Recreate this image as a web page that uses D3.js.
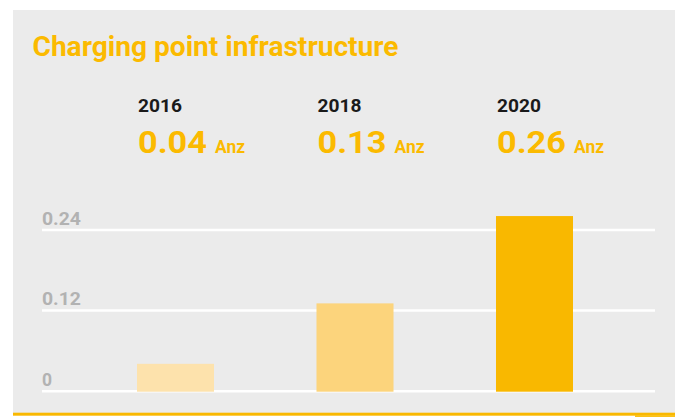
<!DOCTYPE html>
<html>
<head>
<meta charset="utf-8">
<script src="https://cdn.jsdelivr.net/npm/d3@7"></script>
<style>
  html, body { margin: 0; padding: 0; background: #ffffff; }
  svg { display: block; font-family: Roboto, "DejaVu Sans", sans-serif; }
</style>
</head>
<body>
<svg class="chart" width="685" height="417"></svg>
<script>
var title = "Charging point infrastructure";
var years = ["2016", "2018", "2020"];
var values = [0.04, 0.13, 0.26];
var valueLabels = ["0.04", "0.13", "0.26"];
var unit = "Anz";
var tickValues = [0, 0.12, 0.24];
var tickLabels = ["0", "0.12", "0.24"];
var barColors = ["#fde2ac", "#fcd47c", "#f9b800"];

window.onload = function(){

    var svg = d3.select(".chart");

    // panel
    svg.append('rect')
        .attr('x', 13).attr('y', 10)
        .attr('width', 662).attr('height', 403)
        .attr('fill', '#ebebeb');

    svg.append('rect')
        .attr('x', 13).attr('y', 412.7)
        .attr('width', 662).attr('height', 3)
        .attr('fill', '#f9b800');
    svg.append('rect')
        .attr('x', 635).attr('y', 415)
        .attr('width', 40).attr('height', 2)
        .attr('fill', '#fbc21a');

    svg.append('text')
        .attr('x', 32.5)
        .attr('y', 55.7)
        .text(title)
        .attr('font-size', '27px')
        .attr('font-weight', 'bold')
        .attr('textLength', 366)
        .attr('lengthAdjust', 'spacingAndGlyphs')
        .attr('fill', '#fbba00');

    var x = d3.scaleBand()
        .domain(years)
        .range([85.75, 624.25])
        .paddingInner(0.571)
        .paddingOuter(0.2855);

    var y = d3.scaleLinear()
        .domain([0, 0.24])
        .range([390.7, 229.5]);

    // gridlines + tick labels
    var axis = svg.append('g')
        .attr('transform', 'translate(42,0)')
        .call(d3.axisRight(y)
            .tickValues(tickValues)
            .tickSize(613)
            .tickFormat(function(d, i){ return tickLabels[i]; }));
    axis.select('.domain').remove();
    axis.selectAll('.tick line')
        .attr('stroke', '#ffffff')
        .attr('stroke-width', 2.5);
    axis.selectAll('.tick text')
        .attr('x', 0)
        .attr('dy', -5.5)
        .attr('text-anchor', 'start')
        .attr('font-family', 'Roboto, sans-serif')
        .attr('font-size', '17.5px')
        .attr('font-weight', 'bold')
        .attr('fill', '#b2b2b2')
        .attr('textLength', function(d, i){ return tickLabels[i].length > 1 ? 39 : null; })
        .attr('lengthAdjust', 'spacingAndGlyphs');

    // bars
    svg.selectAll('.bar')
        .data(values)
        .enter().append('rect')
        .attr('class', 'bar')
        .attr('x', function(d, i){ return x(years[i]); })
        .attr('width', x.bandwidth())
        .attr('y', function(d){ return y(d); })
        .attr('height', function(d){ return y(0) - y(d) + 1; })
        .attr('fill', function(d, i){ return barColors[i]; });

    // year headers
    svg.selectAll('.year')
        .data(years)
        .enter().append('text')
        .attr('class', 'year')
        .attr('x', function(d){ return x(d) + 1; })
        .attr('y', 111.7)
        .text(function(d){ return d; })
        .attr('font-size', '17.5px')
        .attr('font-weight', 'bold')
        .attr('textLength', 44)
        .attr('lengthAdjust', 'spacingAndGlyphs')
        .attr('fill', '#1a1a1a');

    var vals = svg.selectAll('.val')
        .data(valueLabels)
        .enter().append('g')
        .attr('class', 'val');
    vals.append('text')
        .attr('x', function(d, i){ return x(years[i]) + 1; })
        .attr('y', 152.7)
        .attr('font-weight', 'bold')
        .attr('fill', '#fbba00')
        .attr('font-size', '32px')
        .attr('textLength', 69)
        .attr('lengthAdjust', 'spacingAndGlyphs')
        .text(function(d){ return d; });
    vals.append('text')
        .attr('x', function(d, i){ return x(years[i]) + 78; })
        .attr('y', 152.7)
        .attr('font-weight', 'bold')
        .attr('fill', '#fbba00')
        .attr('font-size', '18px')
        .attr('textLength', 30)
        .attr('lengthAdjust', 'spacingAndGlyphs')
        .text(unit);
}
</script>
</body>
</html>
